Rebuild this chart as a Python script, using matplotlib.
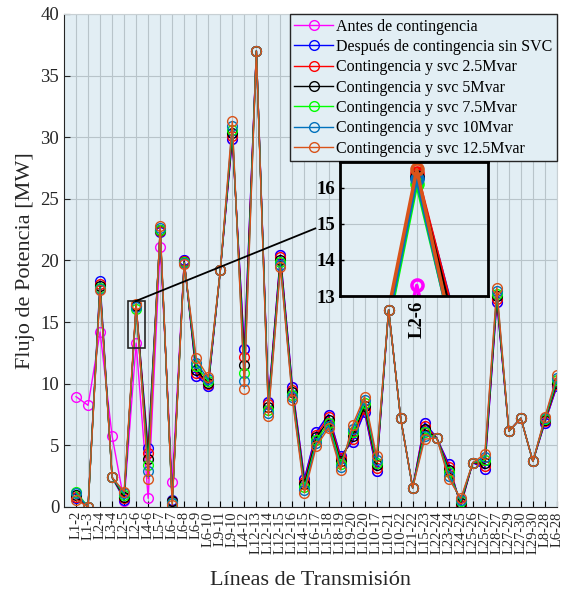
import matplotlib
matplotlib.use("Agg")
from matplotlib import pyplot as plt
from matplotlib.patches import Rectangle

plt.rcParams['font.family'] = ['Liberation Serif', 'DejaVu Serif']

lines = ["L1-2", "L1-3", "L2-4", "L3-4", "L2-5", "L2-6", "L4-6", "L5-7", "L6-7", "L6-8",
         "L6-9", "L6-10", "L9-11", "L9-10", "L4-12", "L12-13", "L12-14", "L12-15", "L12-16",
         "L14-15", "L16-17", "L15-18", "L18-19", "L19-20", "L10-20", "L10-17", "L10-21",
         "L10-22", "L21-22", "L15-23", "L22-24", "L23-24", "L24-25", "L25-26", "L25-27",
         "L28-27", "L27-29", "L27-30", "L29-30", "L8-28", "L6-28"]

antes = [8.95, 8.25, 14.2, 5.75, 0.45, 13.3, 0.7, 21.1, 2.0, 20.0,
         10.65, 9.8, 19.2, 29.85, 12.8, 37.0, 8.55, 20.45, 9.7,
         2.3, 6.1, 7.5, 4.15, 5.3, 7.7, 2.95, 16.0,
         7.2, 1.55, 6.85, 5.6, 3.5, 0.1, 3.6, 3.1,
         16.65, 6.15, 7.2, 3.7, 6.85, 9.8]
sin_svc = [0.7, 0.0, 18.35, 2.4, 0.6, 16.3, 4.8, 22.3, 0.6, 20.0,
           10.65, 9.8, 19.2, 29.85, 12.8, 37.0, 8.55, 20.45, 9.7,
           2.3, 6.1, 7.5, 4.15, 5.3, 7.7, 2.95, 16.0,
           7.2, 1.55, 6.85, 5.6, 3.5, 0.1, 3.6, 3.1,
           16.65, 6.15, 7.2, 3.7, 6.85, 9.8]
svc_25 = [0.8, 0.0, 18.1, 2.4, 0.75, 16.4, 4.4, 22.4, 0.5, 19.95,
          10.9, 9.95, 19.2, 30.1, 12.15, 37.0, 8.35, 20.25, 9.5,
          2.05, 5.85, 7.3, 3.95, 5.55, 7.95, 3.2, 16.0,
          7.2, 1.55, 6.6, 5.6, 3.25, 0.2, 3.6, 3.35,
          16.9, 6.15, 7.2, 3.7, 6.95, 9.95]
svc_5 = [1.0, 0.0, 17.9, 2.4, 0.85, 16.3, 3.9, 22.45, 0.45, 19.9,
         11.1, 10.05, 19.2, 30.35, 11.5, 37.0, 8.1, 20.05, 9.3,
         1.85, 5.65, 7.05, 3.7, 5.8, 8.2, 3.4, 16.0,
         7.2, 1.55, 6.3, 5.6, 3.0, 0.3, 3.6, 3.55,
         17.1, 6.15, 7.2, 3.7, 7.05, 10.1]
svc_75 = [1.25, 0.0, 17.8, 2.4, 1.0, 16.1, 3.4, 22.5, 0.35, 19.85,
          11.4, 10.2, 19.2, 30.6, 10.85, 37.0, 7.9, 19.85, 9.1,
          1.6, 5.4, 6.85, 3.5, 6.05, 8.45, 3.6, 16.0,
          7.2, 1.55, 6.05, 5.6, 2.8, 0.45, 3.6, 3.8,
          17.3, 6.15, 7.2, 3.7, 7.1, 10.3]
svc_10 = [1.1, 0.0, 17.7, 2.4, 1.1, 16.25, 2.9, 22.6, 0.3, 19.8,
          11.7, 10.35, 19.2, 30.9, 10.2, 37.0, 7.65, 19.65, 8.9,
          1.4, 5.2, 6.6, 3.25, 6.35, 8.7, 3.85, 16.0,
          7.2, 1.55, 5.8, 5.6, 2.55, 0.55, 3.6, 4.05,
          17.55, 6.15, 7.2, 3.7, 7.2, 10.5]
svc_125 = [0.6, 0.0, 17.6, 2.4, 1.25, 16.5, 2.3, 22.8, 0.2, 19.75,
           12.1, 10.55, 19.2, 31.3, 9.6, 37.0, 7.4, 19.45, 8.7,
           1.15, 4.95, 6.4, 3.0, 6.65, 8.95, 4.1, 16.0,
           7.2, 1.55, 5.5, 5.6, 2.3, 0.7, 3.6, 4.3,
           17.8, 6.15, 7.2, 3.7, 7.3, 10.7]

series = [antes, sin_svc, svc_25, svc_5, svc_75, svc_10, svc_125]
names = ["Antes de contingencia", "Después de contingencia sin SVC",
         "Contingencia y svc 2.5Mvar", "Contingencia y svc 5Mvar",
         "Contingencia y svc 7.5Mvar", "Contingencia y svc 10Mvar",
         "Contingencia y svc 12.5Mvar"]
colors = ["#FF00FF", "#0000FF", "#FF0000", "#000000", "#00FF00", "#0072BD", "#D95319"]

bg = "#E2EEF4"
x = list(range(1, len(lines) + 1))

fig = plt.figure(figsize=(5.64, 5.90), dpi=100)
ax = fig.add_axes([0.1135, 0.1407, 0.874, 0.8356])
ax.set_facecolor(bg)

for vals, name, c in zip(series, names, colors):
    ax.plot(x, vals, color=c, lw=1.0, marker='o', ms=7, mfc='none', mew=1.0, label=name)

ax.set_xlim(0, 41)
ax.set_ylim(0, 40)
ax.set_xticks(x)
ax.set_xticklabels(lines, rotation=90, fontsize=10.5, color="#262626")
ax.set_yticks(range(0, 41, 5))
ax.tick_params(axis='y', labelsize=13.5, colors="#262626")
ax.tick_params(direction='in', length=4, width=0.8)
ax.tick_params(axis='x', pad=3)
ax.grid(True, color="#B8C4CA", lw=0.8)
ax.set_axisbelow(True)
for s in ['top', 'right']:
    ax.spines[s].set_color("#C8D0D4")
for s in ['left', 'bottom']:
    ax.spines[s].set_color("#262626")
ax.set_ylabel("Flujo de Potencia [MW]", fontsize=16, color="#262626", labelpad=4)
ax.set_xlabel("Líneas de Transmisión", fontsize=16, color="#262626", labelpad=12)

leg = ax.legend(loc='upper right', fontsize=11.5, borderaxespad=0, labelspacing=0.27,
                handlelength=2.4, handletextpad=0.2, borderpad=0.3, fancybox=False,
                framealpha=1, facecolor=bg, edgecolor="#262626")
leg.get_frame().set_linewidth(1.0)

# zoom box and pointer line
ax.add_patch(Rectangle((5.3, 12.9), 1.45, 3.8, fill=False, ec='#262626', lw=1.2, zorder=5))
ax.plot([5.95, 20.9], [16.7, 22.6], color='black', lw=1.3, clip_on=False, zorder=5)

# inset
ins = fig.add_axes([0.603, 0.498, 0.262, 0.227])
ins.set_facecolor(bg)
for vals, c in zip(series, colors):
    ins.plot(x, vals, color=c, lw=2.5, marker='o', ms=8, mfc='none', mew=2.5)
ins.set_xlim(5.31, 6.64)
ins.set_ylim(13, 16.7)
ins.set_xticks([6])
ins.set_xticklabels(["L2-6"], rotation=90, fontsize=13.5, fontweight='bold')
ins.set_yticks([13, 14, 15, 16])
ins.set_yticklabels(["13", "14", "15", "16"], fontsize=13.5, fontweight='bold')
ins.tick_params(direction='in', length=3, width=1)
ins.grid(True, color="#B8C4CA", lw=0.8)
ins.set_axisbelow(True)
for s in ins.spines.values():
    s.set_linewidth(2)
    s.set_color('black')

fig.savefig("out.png", dpi=100, facecolor='white')
